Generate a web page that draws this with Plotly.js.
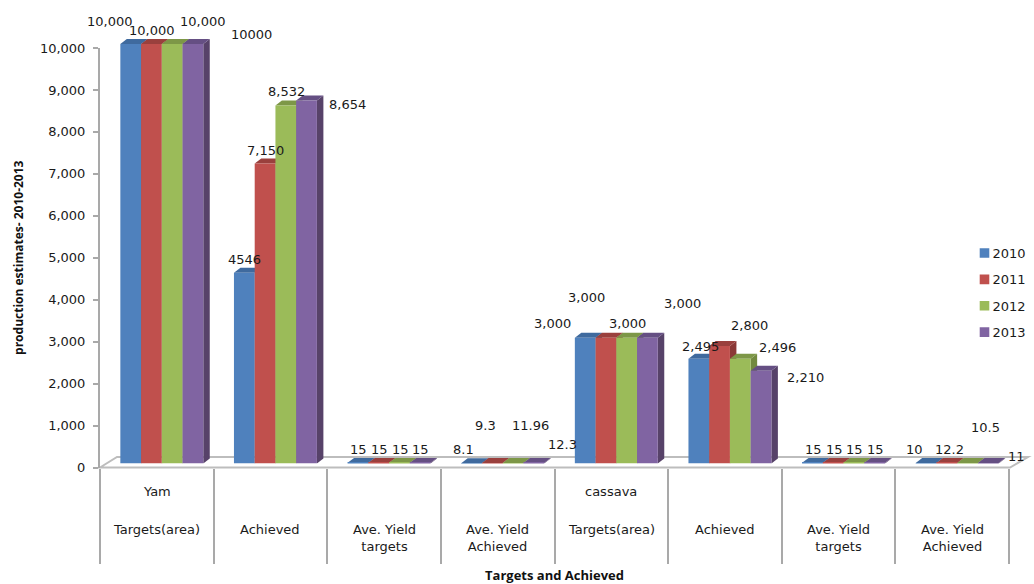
<!DOCTYPE html>
<html>
<head>
<meta charset="utf-8">
<script src="https://cdn.plot.ly/plotly-3.0.1.min.js"></script>
<style>html,body{margin:0;padding:0;background:#fff}#chart{width:1034px;height:584px}</style>
</head>
<body>
<div id="chart"></div>
<script>
// Production estimates: yam and cassava targets against achieved, 2010-2013.
var years = ['2010', '2011', '2012', '2013'];
var categories = ['Targets(area)', 'Achieved', 'Ave. Yield<br>targets', 'Ave. Yield<br>Achieved',
                  'Targets(area)', 'Achieved', 'Ave. Yield<br>targets', 'Ave. Yield<br>Achieved'];
var cropNames = ['Yam', '', '', '', 'cassava', '', '', ''];
var values2010 = [10000, 4546, 15, 8.1, 3000, 2495, 15, 10];
var values2011 = [10000, 7150, 15, 9.3, 3000, 2800, 15, 12.2];
var values2012 = [10000, 8532, 15, 11.96, 3000, 2496, 15, 10.5];
var values2013 = [10000, 8654, 15, 12.3, 3000, 2210, 15, 11];
var labels2010 = ['10,000', '4546', '15', '8.1', '3,000', '2,495', '15', '10'];
var labels2011 = ['10,000', '7,150', '15', '9.3', '3,000', '2,800', '15', '12.2'];
var labels2012 = ['10,000', '8,532', '15', '11.96', '3,000', '2,496', '15', '10.5'];
var labels2013 = ['10000', '8,654', '15', '12.3', '3,000', '2,210', '15', '11'];
var yTicks = [0, 1000, 2000, 3000, 4000, 5000, 6000, 7000, 8000, 9000, 10000];

var seriesValues = [values2010, values2011, values2012, values2013];
var seriesLabels = [labels2010, labels2011, labels2012, labels2013];

// Hand-placed value labels, page pixels [x, y] per category and year.
var labelSpots = [
  [[109.5, 21.5], [245, 259], [358, 449.5], [463, 449.5], [552, 323.5], [700, 346], [813.3, 449.5], [914.3, 449.5]],
  [[151.5, 30.7], [265.5, 150], [379, 449.5], [485.7, 425], [586.3, 297.3], [749.5, 325.7], [834, 449.5], [949.7, 449.5]],
  [[203, 21.5], [286.5, 91.7], [400, 449.5], [530.3, 425], [627.5, 323.7], [777.5, 347.7], [854.7, 449.5], [985, 427.7]],
  [[251.5, 34.7], [347.7, 104.7], [420, 449.5], [562.7, 444.7], [682, 303.7], [805.5, 377.7], [875.3, 449.5], [1016.7, 456.7]]
];

var W = 1034, H = 584;
var px = function (x) { return x / W; };
var py = function (y) { return (H - y) / H; };

var frontColors = ['#4f81bd', '#c0504d', '#9bbb59', '#8064a2'];
var sideColors = ['#3a6191', '#8b3836', '#72893f', '#574269'];
var topColors = ['#3f6a9e', '#9a403d', '#7d9747', '#654f83'];
var gridGrey = '#a9a9a9';
var textFont = {family: 'DejaVu Sans, sans-serif', size: 13, color: '#1a1a1a'};
var yTitleFont = {family: 'Open Sans, sans-serif', size: 12, color: '#111', weight: 700};
var xTitleFont = {family: 'Open Sans, sans-serif', size: 13, color: '#111', weight: 700};

var bargap = 0.27;
var barWidth = (1 - bargap) / 4;
var depthX = 0.057;   // category units
var depthY = 119;     // value units

var traces = years.map(function (year, s) {
  return {
    type: 'bar', name: year, legendgroup: year,
    x: categories.map(function (c, i) { return i + 0.5; }),
    y: seriesValues[s],
    xaxis: 'x2', yaxis: 'y2',
    marker: {color: frontColors[s], line: {width: 0}},
    hoverinfo: 'x+y'
  };
});

// Floor of the 3D plot area, underneath everything.
var shapes = [{
  type: 'path', xref: 'paper', yref: 'paper', layer: 'below',
  path: 'M' + px(100) + ',' + py(467.5) + 'L' + px(117) + ',' + py(457) + 'L' + px(1028) + ',' + py(457) + 'L' + px(1010) + ',' + py(467.5) + 'Z',
  fillcolor: '#ffffff', line: {color: '#bdbdbd', width: 2}
}];

// Side and top faces of every bar, left to right so nearer faces paint later.
categories.forEach(function (c, i) {
  years.forEach(function (year, s) {
    var v = seriesValues[s][i];
    var l = i + 0.5 + (s - 2) * barWidth;
    var r = l + barWidth;
    shapes.push({
      type: 'path', xref: 'x2', yref: 'y2', layer: 'below', line: {width: 0}, fillcolor: sideColors[s],
      path: 'M' + r + ',0L' + (r + depthX) + ',' + depthY + 'L' + (r + depthX) + ',' + (v + depthY) + 'L' + r + ',' + v + 'Z'
    });
    shapes.push({
      type: 'path', xref: 'x2', yref: 'y2', layer: 'below', line: {width: 0}, fillcolor: topColors[s],
      path: 'M' + l + ',' + v + 'L' + r + ',' + v + 'L' + (r + depthX) + ',' + (v + depthY) + 'L' + (l + depthX) + ',' + (v + depthY) + 'Z'
    });
  });
});

var annotations = [];
seriesLabels.forEach(function (labels, s) {
  labels.forEach(function (text, i) {
    annotations.push({
      text: text, xref: 'paper', yref: 'paper', x: px(labelSpots[s][i][0]), y: py(labelSpots[s][i][1]),
      xanchor: 'center', yanchor: 'middle', showarrow: false, font: textFont
    });
  });
});
categories.forEach(function (c, i) {
  var twoLine = c.indexOf('<br>') >= 0;
  annotations.push({
    text: c, xref: 'x', yref: 'paper', x: i + 0.5, y: py(twoLine ? 537.5 : 529.5),
    xanchor: 'center', yanchor: 'middle', showarrow: false, font: textFont
  });
  if (cropNames[i]) {
    annotations.push({
      text: cropNames[i], xref: 'x', yref: 'paper', x: i + 0.5, y: py(491),
      xanchor: 'center', yanchor: 'middle', showarrow: false, font: textFont
    });
  }
});

var layout = {
  width: W, height: H,
  margin: {l: 0, r: 0, t: 0, b: 0, pad: 0, autoexpand: false},
  paper_bgcolor: '#ffffff', plot_bgcolor: 'rgba(0,0,0,0)',
  barmode: 'group', bargap: bargap, bargroupgap: 0,
  showlegend: true,
  legend: {
    x: px(964.5), y: py(238), xanchor: 'left', yanchor: 'top',
    font: textFont, traceorder: 'grouped', tracegroupgap: 6.5, bgcolor: 'rgba(0,0,0,0)'
  },
  // Visible frame: value axis and category dividers.
  xaxis: {
    domain: [px(100), px(1009)], range: [0, 8], anchor: 'y',
    tickmode: 'array', tickvals: [0, 1, 2, 3, 4, 5, 6, 7, 8], showticklabels: false,
    ticks: 'outside', ticklen: 95, tickwidth: 2, tickcolor: gridGrey,
    showgrid: false, zeroline: false, showline: false,
    title: {text: 'Targets and Achieved', font: xTitleFont, standoff: 8}
  },
  yaxis: {
    domain: [py(467.5), py(48)], range: [0, 10000], anchor: 'x',
    tickmode: 'array', tickvals: yTicks, tickformat: ',d',
    ticks: 'outside', ticklen: 5, tickwidth: 1.5, tickcolor: gridGrey,
    showline: true, linewidth: 2, linecolor: gridGrey,
    showgrid: false, zeroline: false, tickfont: textFont, ticklabelstandoff: 5,
    title: {text: 'production estimates- 2010-2013', font: yTitleFont, standoff: 14}
  },
  // Bars stand slightly behind the floor's front edge, so they get their own offset scales.
  xaxis2: {domain: [px(105), px(1014)], range: [0, 8], anchor: 'y2', visible: false},
  yaxis2: {domain: [py(463.5), py(2)], range: [0, 11000], anchor: 'x2', visible: false},
  shapes: shapes,
  annotations: annotations
};

Plotly.newPlot('chart', traces, layout, {displayModeBar: false, responsive: false}).then(function () {
  // Tighter legend swatches and text gap than the library default.
  document.querySelectorAll('#chart .legendtext').forEach(function (t) { t.setAttribute('x', 28); });
  document.querySelectorAll('#chart .legendpoints path').forEach(function (p) {
    p.setAttribute('transform', 'translate(20,0) scale(0.8)');
  });
});
</script>
</body>
</html>
